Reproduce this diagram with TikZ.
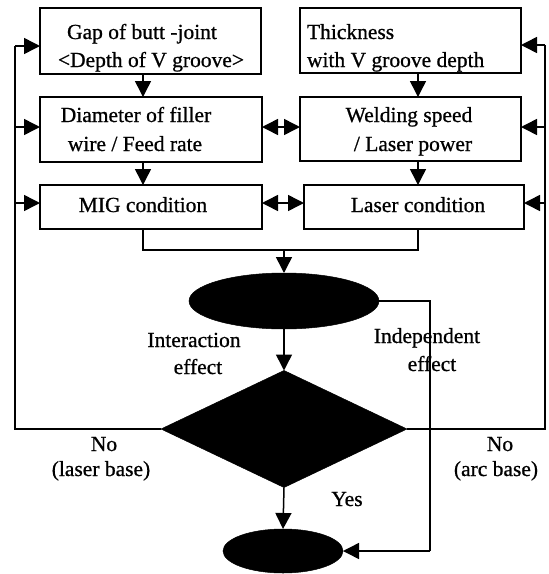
\documentclass[tikz,border=0pt]{standalone}
\usepackage{fontspec}
\setmainfont{Liberation Serif}[FakeBold=0.8]
\usetikzlibrary{arrows.meta,shapes.geometric}
\begin{document}
\begin{tikzpicture}[x=1pt,y=-1pt,
  every node/.style={inner sep=0pt,outer sep=0pt},
  conn/.style={line width=1.5pt},
  tip/.tip={Triangle[length=16pt,width=16pt]},
  arr/.style={conn,-tip},
  darr/.style={conn,tip-tip},
  boxnode/.style={draw,line width=1.6pt,rectangle},
  txt/.style={font=\fontsize{21.5}{27}\selectfont,anchor=base},
  txtl/.style={txt,anchor=base west},
  blob/.style={fill=black,draw=black,line width=0.5pt}]
\useasboundingbox (0,0) rectangle (549,574);
% boxes
\node[boxnode,minimum width=221pt,minimum height=66pt] (b1) at (150.5,41) {};
\node[boxnode,minimum width=221pt,minimum height=65pt] (b2) at (410.5,40.5) {};
\node[boxnode,minimum width=222pt,minimum height=65pt] (b3) at (151,129.5) {};
\node[boxnode,minimum width=221pt,minimum height=64pt] (b4) at (410.5,129) {};
\node[boxnode,minimum width=222pt,minimum height=44pt] (b5) at (151,207) {};
\node[boxnode,minimum width=220pt,minimum height=44pt] (b6) at (414,207) {};
% texts
\node[txt] (t1a) at (142,39) {Gap of butt -joint};
\node[txt] (t1b) at (151,67) {<Depth of V groove>};
\node[txtl] (t2a) at (307,39) {Thickness};
\node[txtl] (t2b) at (307,67) {with V groove depth};
\node[txt] (t3a) at (136,122) {Diameter of filler};
\node[txt] (t3b) at (135,151) {wire / Feed rate};
\node[txt] (t4a) at (409,122) {Welding speed};
\node[txt] (t4b) at (413,151) {/ Laser power};
\node[txt] (t5) at (143,212) {MIG condition};
\node[txt] (t6) at (418,212) {Laser condition};
% black shapes
\node[blob,ellipse,minimum width=190pt,minimum height=56pt] (e1) at (284,301) {};
\node[blob,diamond,minimum width=246pt,minimum height=117pt] (d) at (284,429) {};
\node[blob,ellipse,minimum width=120pt,minimum height=44pt] (e2) at (283,551) {};
% labels
\node[txt] (l1) at (194,347) {Interaction};
\node[txt] (l2) at (198,374) {effect};
\node[txt] (l3) at (427,343) {Independent};
\node[txt] (l4) at (432,371) {effect};
\node[txt] (l5) at (104,451) {No};
\node[txt] (l6) at (101,476) {(laser base)};
\node[txt] (l7) at (500,451) {No};
\node[txt] (l8) at (496,476) {(arc base)};
\node[txt] (l9) at (347,506) {Yes};
% coordinates
\coordinate (xl) at (143,0);
\coordinate (xr) at (418,0);
\coordinate (m1) at (143,250);
\coordinate (m2) at (418,250);
\coordinate (mc) at (284,250);
\coordinate (L0) at (15,429);
\coordinate (L1) at (15,46);
\coordinate (L2) at (15,127);
\coordinate (L3) at (15,203);
\coordinate (R0) at (545,429);
\coordinate (R1) at (545,45);
\coordinate (R2) at (545,127);
\coordinate (R3) at (545,203);
\coordinate (Q1) at (430,301);
\coordinate (Q2) at (430,551);
% vertical arrows between boxes
\draw[arr] (b1.south -| xl) -- (b3.north -| xl);
\draw[arr] (b2.south -| xr) -- (b4.north -| xr);
\draw[arr] (b3.south -| xl) -- (b5.north -| xl);
\draw[arr] (b4.south -| xr) -- (b6.north -| xr);
% double arrows
\draw[darr] (b3.east |- L2) -- (b4.west |- L2);
\draw[darr] (b5.east |- L3) -- (b6.west |- L3);
% merge
\draw[conn] (b5.south -| m1) -- (m1) -- (m2) -- (b6.south -| m2);
\draw[arr] (mc) -- (e1.north);
\draw[arr] (e1.south) -- (d.north);
\draw[arr] (d.south) -- (e2.north);
% independent path
\draw[conn] (e1.east) -- (Q1) -- (Q2);
\draw[arr] (Q2) -- (e2.east);
% left feedback
\draw[conn] (d.west) -- (L0) -- (L1);
\draw[arr] (L1) -- (b1.west |- L1);
\draw[arr] (L2) -- (b3.west |- L2);
\draw[arr] (L3) -- (b5.west |- L3);
% right feedback
\draw[conn] (d.east) -- (R0) -- (R1);
\draw[arr] (R1) -- (b2.east |- R1);
\draw[arr] (R2) -- (b4.east |- R2);
\draw[arr] (R3) -- (b6.east |- R3);
\end{tikzpicture}
\end{document}
